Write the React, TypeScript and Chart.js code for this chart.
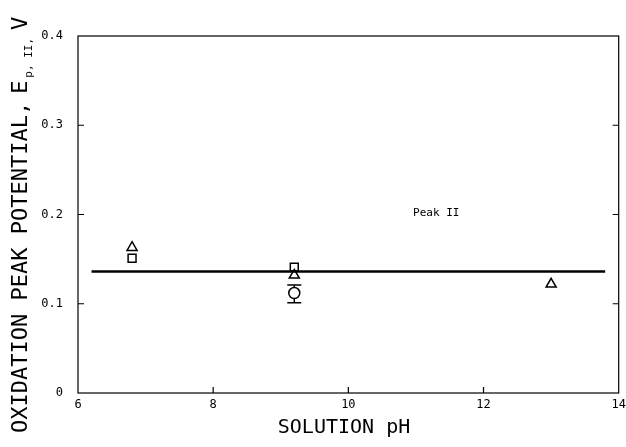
import React, { useEffect, useRef } from "react";
import { Chart, registerables } from "chart.js";
Chart.register(...registerables);

// Data
const phTriangle = [6.8, 9.2, 13.0];
const eTriangle = [0.163, 0.132, 0.122];
const phSquare = [6.8, 9.2];
const eSquare = [0.151, 0.141];
const phCircle = [9.2];
const eCircle = [0.112];
const eCircleLow = [0.101];
const eCircleHigh = [0.121];
const phFit = [6.2, 13.8];
const eFit = [0.136, 0.136];
const xTickValues = [6, 8, 10, 12, 14];
const yTickValues = [0, 0.1, 0.2, 0.3, 0.4];
const xTitle = "SOLUTION pH";
const yTitleMain = "OXIDATION PEAK POTENTIAL,";
const yTitleSymbol = "E";
const yTitleSub = "p, II,";
const yTitleUnit = "V";
const noteText = "Peak II";
const notePh = [11.3];
const noteE = [0.202];

const MONO = "'DejaVu Sans Mono', 'Liberation Mono', monospace";

const pts = (xs: number[], ys: number[]) => xs.map((x, i) => ({ x, y: ys[i] }));

const decorPlugin = {
  id: "decor",
  afterDraw(chart: any) {
    const { ctx, chartArea, scales } = chart;
    const xs = scales.x;
    const ys = scales.y;
    ctx.save();
    ctx.strokeStyle = "#000";
    ctx.fillStyle = "#000";
    ctx.lineWidth = 1.2;
    ctx.strokeRect(chartArea.left, chartArea.top, chartArea.right - chartArea.left, chartArea.bottom - chartArea.top);
    // inward tick marks
    const tl = 6;
    ctx.beginPath();
    xTickValues.slice(1, -1).forEach((v) => {
      const px = xs.getPixelForValue(v);
      ctx.moveTo(px, chartArea.bottom);
      ctx.lineTo(px, chartArea.bottom - tl);
    });
    yTickValues.slice(1, -1).forEach((v) => {
      const py = ys.getPixelForValue(v);
      ctx.moveTo(chartArea.left, py);
      ctx.lineTo(chartArea.left + tl, py);
      ctx.moveTo(chartArea.right, py);
      ctx.lineTo(chartArea.right - tl, py);
    });
    ctx.stroke();
    // error bars
    ctx.lineWidth = 1.5;
    ctx.beginPath();
    phCircle.forEach((ph, i) => {
      const px = xs.getPixelForValue(ph);
      const lo = ys.getPixelForValue(eCircleLow[i]);
      const hi = ys.getPixelForValue(eCircleHigh[i]);
      const c = ys.getPixelForValue(eCircle[i]);
      const r = 6;
      ctx.moveTo(px, hi);
      ctx.lineTo(px, c - r);
      ctx.moveTo(px, c + r);
      ctx.lineTo(px, lo);
      ctx.moveTo(px - 7, hi);
      ctx.lineTo(px + 7, hi);
      ctx.moveTo(px - 7, lo);
      ctx.lineTo(px + 7, lo);
    });
    ctx.stroke();
    // annotation
    ctx.font = `11px ${MONO}`;
    ctx.textAlign = "center";
    ctx.textBaseline = "middle";
    ctx.fillText(noteText, xs.getPixelForValue(notePh[0]), ys.getPixelForValue(noteE[0]));
    // x title
    ctx.font = `20px ${MONO}`;
    ctx.fillText(xTitle, 344, 428);
    // y title (rotated)
    ctx.translate(21, 433);
    ctx.rotate(-Math.PI / 2);
    ctx.textAlign = "left";
    ctx.font = `22px ${MONO}`;
    let x = 0;
    ctx.fillText(yTitleMain, x, 0);
    x += ctx.measureText(yTitleMain).width + 8;
    ctx.fillText(yTitleSymbol, x, 0);
    x += ctx.measureText(yTitleSymbol).width + 3;
    ctx.font = `11px ${MONO}`;
    ctx.fillText(yTitleSub, x, 8);
    x += ctx.measureText(yTitleSub).width + 8;
    ctx.font = `22px ${MONO}`;
    ctx.fillText(yTitleUnit, x, 0);
    ctx.restore();
  },
};

export default function App() {
  const ref = useRef<HTMLCanvasElement | null>(null);
  useEffect(() => {
    if (!ref.current) return;
    const marker = {
      backgroundColor: "#fff",
      borderColor: "#000",
      borderWidth: 1.5,
      showLine: false,
    };
    const chart = new Chart(ref.current, {
      type: "scatter",
      data: {
        datasets: [
          {
            label: "fit",
            data: pts(phFit, eFit),
            showLine: true,
            borderColor: "#000",
            borderWidth: 2.5,
            pointRadius: 0,
            fill: false,
          } as any,
          { label: "triangle", data: pts(phTriangle, eTriangle), pointStyle: "triangle", pointRadius: 5.8, ...marker },
          { label: "square", data: pts(phSquare, eSquare), pointStyle: "rect", pointRadius: 5.6, ...marker },
          { label: "circle", data: pts(phCircle, eCircle), pointStyle: "circle", pointRadius: 5.5, ...marker },
        ],
      },
      options: {
        animation: false,
        responsive: false,
        maintainAspectRatio: false,
        layout: { padding: { left: 0, top: 36, right: 7, bottom: 0 } },
        plugins: { legend: { display: false }, tooltip: { enabled: false } },
        scales: {
          x: {
            type: "linear",
            min: 6,
            max: 14,
            grid: { display: false, drawTicks: false },
            border: { display: false },
            afterBuildTicks: (s: any) => {
              s.ticks = xTickValues.map((v) => ({ value: v }));
            },
            afterFit: (s: any) => {
              s.height = 54;
              s.paddingLeft = 0;
              s.paddingRight = 0;
            },
            ticks: {
              color: "#000",
              font: { family: MONO, size: 12 },
              padding: 5,
              maxRotation: 0,
              callback: (v: any) => String(v),
            },
          },
          y: {
            type: "linear",
            min: 0,
            max: 0.4,
            grid: { display: false, drawTicks: false },
            border: { display: false },
            afterBuildTicks: (s: any) => {
              s.ticks = yTickValues.map((v) => ({ value: v }));
            },
            afterFit: (s: any) => {
              s.width = 78;
              s.paddingTop = 0;
              s.paddingBottom = 0;
            },
            ticks: {
              color: "#000",
              font: { family: MONO, size: 12 },
              padding: 15,
              callback: (v: any) => (Number(v) === 0 ? "0" : Number(v).toFixed(1)),
            },
          },
        },
      },
      plugins: [decorPlugin],
    } as any);
    return () => chart.destroy();
  }, []);
  return (
    <div style={{ position: "absolute", left: 0, top: 0, width: 626, height: 447, background: "#fff" }}>
      <canvas ref={ref} width={626} height={447} style={{ display: "block" }} />
    </div>
  );
}
